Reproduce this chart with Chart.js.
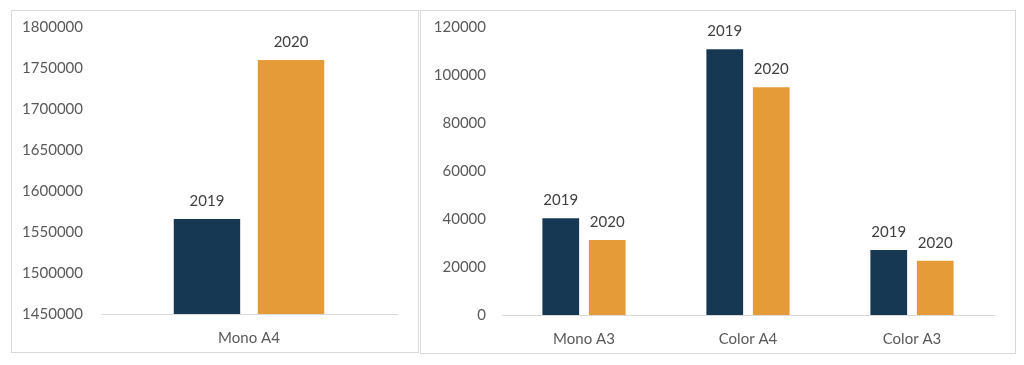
<!DOCTYPE html>
<html>
<head>
<meta charset="utf-8">
<style>
    body { margin: 0; background: #fff; }
    .box {
        position: absolute;
        box-sizing: border-box;
        border: 1px solid #d9d9d9;
        background: #fff;
    }
    .box canvas { display: block; }
</style>
</head>
<body>
<div class="box" id="box-a4" style="left:11px; top:10px; width:408px; height:343px;">
    <canvas id="chart-a4" width="406" height="341"></canvas>
</div>
<div class="box" id="box-other" style="left:420px; top:10px; width:596px; height:344px;">
    <canvas id="chart-other" width="594" height="342"></canvas>
</div>

<script src="https://cdn.jsdelivr.net/npm/chart.js"></script>
<script>
const years = ['2019', '2020'];

const a4Categories = ['Mono A4'];
const a4Values2019 = [1565900];
const a4Values2020 = [1759700];
const a4Ticks = [1450000, 1500000, 1550000, 1600000, 1650000, 1700000, 1750000, 1800000];

const otherCategories = ['Mono A3', 'Color A4', 'Color A3'];
const otherValues2019 = [40300, 110700, 27100];
const otherValues2020 = [31250, 94900, 22600];
const otherTicks = [0, 20000, 40000, 60000, 80000, 100000, 120000];

const navy = '#163853';
const orange = '#E59B37';
const fontFamily = 'Lato, "Open Sans", sans-serif';

Chart.defaults.animation = false;
Chart.defaults.font.family = fontFamily;
Chart.defaults.font.size = 15;
Chart.defaults.color = '#595959';

// writes the series name (year) above every bar
const yearLabels = {
    id: 'yearLabels',
    afterDatasetsDraw(chart) {
        const ctx = chart.ctx;
        ctx.save();
        ctx.font = '15px ' + fontFamily;
        ctx.fillStyle = '#404040';
        ctx.textAlign = 'center';
        ctx.textBaseline = 'middle';
        chart.data.datasets.forEach((ds, i) => {
            chart.getDatasetMeta(i).data.forEach(bar => {
                ctx.fillText(ds.label, bar.x, bar.y - 18);
            });
        });
        ctx.restore();
    }
};

function makeChart(id, categories, v2019, v2020, ticks, opts) {
    const ctx = document.getElementById(id).getContext('2d');
    return new Chart(ctx, {
        type: 'bar',
        data: {
            labels: categories,
            datasets: [
                { label: years[0], data: v2019, backgroundColor: navy },
                { label: years[1], data: v2020, backgroundColor: orange }
            ]
        },
        options: {
            responsive: false,
            layout: { padding: { top: 16, right: opts.padRight, left: 0, bottom: 0 } },
            plugins: {
                legend: { display: false },
                tooltip: { enabled: false }
            },
            datasets: {
                bar: {
                    categoryPercentage: opts.catPct,
                    barPercentage: 0.79
                }
            },
            scales: {
                x: {
                    grid: { display: false, drawTicks: false },
                    border: { display: true, color: '#d9d9d9', width: 1 },
                    ticks: { padding: 15, color: '#595959' },
                    afterFit(scale) { scale.height = 38; }
                },
                y: {
                    min: ticks[0],
                    max: ticks[ticks.length - 1],
                    grid: { display: false, drawTicks: false },
                    border: { display: false },
                    afterBuildTicks(scale) {
                        scale.ticks = ticks.map(v => ({ value: v }));
                    },
                    ticks: {
                        padding: opts.tickPad,
                        color: '#595959',
                        callback: v => String(v)
                    },
                    afterFit(scale) {
                        scale.width = opts.yWidth;
                        scale.paddingTop = 4;
                        scale.paddingBottom = 4;
                    }
                }
            }
        },
        plugins: [yearLabels]
    });
}

makeChart('chart-a4', a4Categories, a4Values2019, a4Values2020, a4Ticks,
    { padRight: 21, yWidth: 89, tickPad: 18, catPct: 0.568 });

makeChart('chart-other', otherCategories, otherValues2019, otherValues2020, otherTicks,
    { padRight: 21, yWidth: 81, tickPad: 16, catPct: 0.567 });
</script>
</body>
</html>
